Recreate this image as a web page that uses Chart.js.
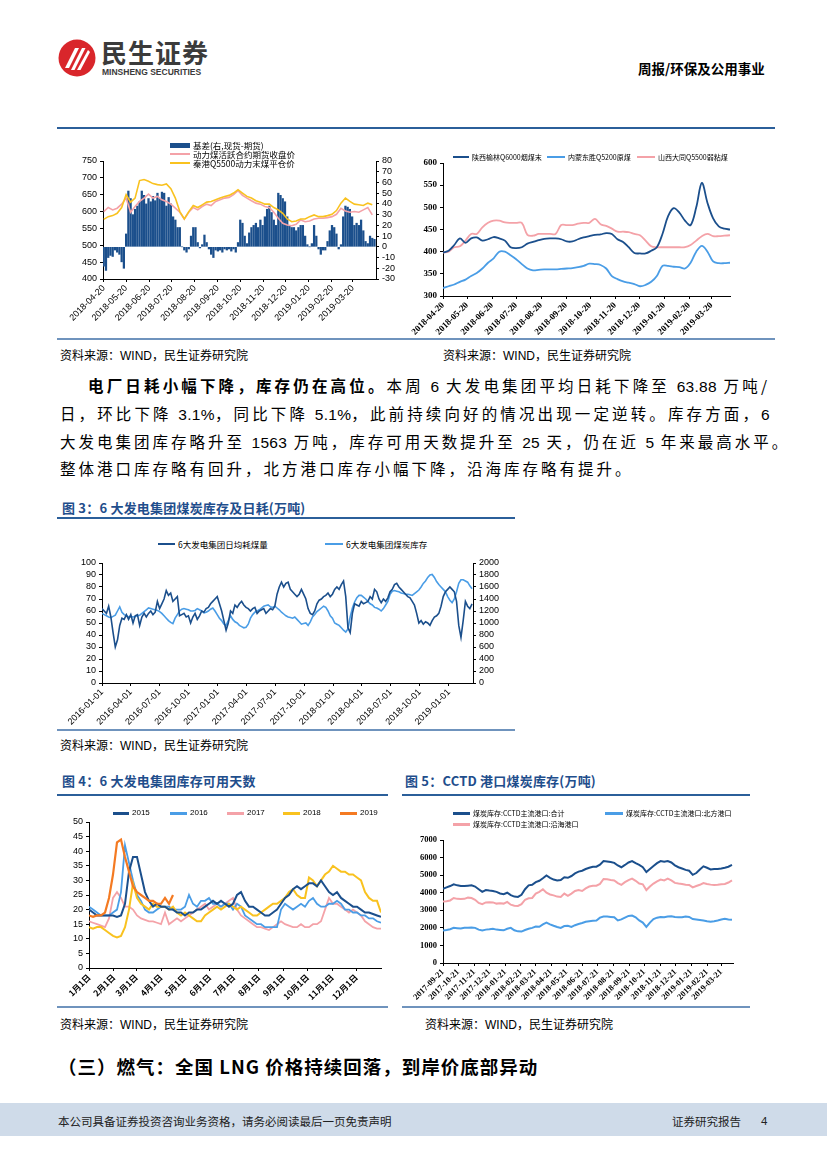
<!DOCTYPE html>
<html lang="zh-CN">
<head>
<meta charset="utf-8">
<title>周报/环保及公用事业</title>
<script src="https://cdn.jsdelivr.net/npm/chart.js@4.4.1/dist/chart.umd.min.js"></script>
<style>
  html, body { margin: 0; padding: 0; background: #fff; }
  #page { position: relative; width: 827px; height: 1169px; overflow: hidden; font-family: "Noto Sans CJK SC", sans-serif; color: #000; }
  #page div, #page canvas, #page svg { position: absolute; }
  .txt { white-space: nowrap; }
  .rule { background: #2b5f9a; height: 2px; }
  .src { font-size: 12px; line-height: 16px; white-space: nowrap; }
  .src b { font-family: "Liberation Sans", sans-serif; font-weight: normal; }
  .fig { font-size: 13px; line-height: 18px; font-weight: bold; color: #1f4e8c; letter-spacing: 0.2px; white-space: nowrap; }
  .body { font-size: 15.5px; line-height: 20px; letter-spacing: 3px; white-space: nowrap; }
  .body i { font-style: normal; letter-spacing: 0.3px; font-family: "Liberation Sans", sans-serif; }
  .just { text-align: justify; text-align-last: justify; }
  .lg { line-height: 10px; white-space: nowrap; }
</style>
</head>
<body>
<div id="page">
  <!-- header -->
  <svg style="left:58px;top:39px" width="38" height="38" viewBox="0 0 38 38">
    <circle cx="19" cy="19" r="18.5" fill="#d9262b"/>
    <path d="M7 29 L17 9 L21 9 L11 29 Z" fill="#fff"/>
    <path d="M13 31 L24 9 L27.5 9 L16.5 31 Z" fill="#fff"/>
    <path d="M19 31 L30 11 L32 13 L22.5 31 Z" fill="#fff"/>
  </svg>
  <div class="txt" style="left:101px;top:36px;font-size:26px;line-height:32px;font-weight:bold;color:#3b3b3b;letter-spacing:1px">民生证券</div>
  <div class="txt" style="left:102px;top:67px;font-size:8.5px;line-height:10px;font-weight:bold;color:#3b3b3b;font-family:'Liberation Sans',sans-serif">MINSHENG SECURITIES</div>
  <div class="txt" style="left:638px;top:60px;font-size:13.5px;line-height:16px;font-weight:bold">周报/环保及公用事业</div>

  <!-- top pair of charts -->
  <div class="rule" style="left:57px;top:127px;width:718px"></div>
  <canvas id="chartBasis" width="345" height="190" style="left:60px;top:150px"></canvas>
  <canvas id="chartPit" width="335" height="190" style="left:405px;top:150px"></canvas>
  <div class="rule" style="left:57px;top:338px;width:718px;background:#6f93bd"></div>
  <div class="src" style="left:60px;top:347px">资料来源：<b>WIND</b>，民生证券研究院</div>
  <div class="src" style="left:443px;top:347px">资料来源：<b>WIND</b>，民生证券研究院</div>

  <!-- body text -->
  <div class="body just" style="left:88px;top:375px;width:682px"><b>电厂日耗小幅下降，库存仍在高位。</b>本周 <i>6</i> 大发电集团平均日耗下降至 <i>63.88</i> 万吨/</div>
  <div class="body just" style="left:60px;top:403px;width:710px">日，环比下降 <i>3.1%</i>，同比下降 <i>5.1%</i>，此前持续向好的情况出现一定逆转。库存方面，<i>6</i></div>
  <div class="body just" style="left:60px;top:431px;width:710px">大发电集团库存略升至 <i>1563</i> 万吨，库存可用天数提升至 <i>25</i> 天，仍在近 <i>5</i> 年来最高水平。</div>
  <div class="body" style="left:60px;top:458px">整体港口库存略有回升，北方港口库存小幅下降，沿海库存略有提升。</div>

  <!-- figure 3 -->
  <div class="fig" style="left:62px;top:499px">图 3：6 大发电集团煤炭库存及日耗(万吨)</div>
  <div class="rule" style="left:57px;top:517px;width:458px"></div>
  <canvas id="chartPower" width="450" height="172" style="left:55px;top:553px"></canvas>
  <div class="rule" style="left:57px;top:729px;width:458px;background:#6f93bd"></div>
  <div class="src" style="left:60px;top:737px">资料来源：<b>WIND</b>，民生证券研究院</div>

  <!-- figure 4 / 5 -->
  <div class="fig" style="left:62px;top:772px">图 4：6 大发电集团库存可用天数</div>
  <div class="fig" style="left:405px;top:772px">图 5：CCTD 港口煤炭库存(万吨)</div>
  <div class="rule" style="left:57px;top:794px;width:331px"></div>
  <div class="rule" style="left:402px;top:794px;width:348px"></div>
  <canvas id="chartDays" width="335" height="193" style="left:55px;top:812px"></canvas>
  <canvas id="chartPort" width="345" height="175" style="left:400px;top:830px"></canvas>
  <div class="rule" style="left:57px;top:1006px;width:331px;background:#6f93bd"></div>
  <div class="rule" style="left:402px;top:1006px;width:348px;background:#6f93bd"></div>
  <div class="src" style="left:60px;top:1016px">资料来源：<b>WIND</b>，民生证券研究院</div>
  <div class="src" style="left:425px;top:1016px">资料来源：<b>WIND</b>，民生证券研究院</div>

  <div class="txt" style="left:58px;top:1054px;font-size:18.5px;line-height:24px;font-weight:bold;letter-spacing:1px">（三）燃气：全国 LNG 价格持续回落，到岸价底部异动</div>

  <!-- footer -->
  <div style="left:0;top:1103px;width:827px;height:33px;background:#cfdbe9"></div>
  <div class="txt" style="left:58px;top:1113px;font-size:11.5px;line-height:16px;color:#222">本公司具备证券投资咨询业务资格，请务必阅读最后一页免责声明</div>
  <div class="txt" style="left:672px;top:1113px;font-size:11.5px;line-height:16px;color:#222">证券研究报告</div>
  <div class="txt" style="left:761px;top:1113px;font-size:11.5px;line-height:16px;color:#222;font-family:'Liberation Sans',sans-serif">4</div>
</div>

<script>
// ---------- data ----------
// top left: basis (bars, right axis) and prices (lines, left axis), from 2018-04-20
const basisStart = '2018-04-20';
const basisTicks = ['2018-04-20', '2018-05-20', '2018-06-20', '2018-07-20', '2018-08-20', '2018-09-20',
  '2018-10-20', '2018-11-20', '2018-12-20', '2019-01-20', '2019-02-20', '2019-03-20'];
const basisNames = ['基差(右,现货-期货)', '动力煤活跃合约期货收盘价', '秦港Q5500动力末煤平仓价'];
// one bar every 3 days
const basisValues = [-18, -22, -10, -8, -9, -3, -5, -7, -14, -20, 12, 52, 45, 30, 35, 38, 42, 52, 48, 40,
  45, 42, 47, 43, 50, 45, 51, 50, 38, 46, 40, 28, 25, 18, 18, 0, -3, -5, -2, 10,
  18, 18, 4, -1, 2, 11, 4, -2, -7, -10, -3, -4, -3, -5, -2, -3, -2, -4, -2, -5,
  4, 25, 22, 10, 3, 13, 18, 20, 22, 18, 25, 20, 28, 35, 38, 32, 25, 20, 50, 48,
  45, 42, 28, 20, 18, 18, 15, 18, 20, 20, 10, 2, 0, 3, 20, 10, -2, -7, -3, -3,
  5, 15, 20, 18, 12, -2, 2, 28, 38, 37, 35, 28, 20, 22, 20, 25, 15, 5, 3, 10, 8, 7];
// one point every 6 days
const futuresClose = [600, 612, 605, 610, 622, 640, 598, 615, 630, 640, 652, 640, 645, 635, 630, 622, 610, 598, 578, 598,
  612, 605, 615, 622, 618, 630, 635, 640, 642, 650, 662, 648, 640, 632, 625, 622, 615, 612, 598, 580,
  565, 560, 558, 562, 575, 570, 572, 578, 580, 580, 582, 585, 592, 610, 602, 598, 600, 598, 605, 612, 590];
const qhdSpot = [577, 585, 588, 595, 612, 650, 628, 640, 692, 695, 690, 683, 680, 678, 682, 668, 640, 600, 578, 600,
  618, 612, 620, 628, 630, 635, 640, 645, 648, 655, 665, 655, 645, 640, 632, 628, 622, 622, 612, 605,
  595, 578, 570, 572, 578, 578, 585, 590, 585, 585, 588, 592, 603, 625, 640, 630, 622, 620, 618, 625, 620];

// top right: pit-mouth prices, weekly from 2018-04-20
const pitStart = '2018-04-20';
const pitTicks = basisTicks;
const pitNames = ['陕西榆林Q6000烟煤末', '内蒙东胜Q5200原煤', '山西大同Q5500弱粘煤'];
const yulin = [398, 402, 415, 430, 420, 430, 432, 425, 428, 433, 430, 425, 410, 408, 410, 418, 422, 426, 429, 430,
  430, 428, 423, 423, 428, 432, 435, 438, 439, 442, 440, 428, 422, 410, 397, 396, 396, 402, 410, 440,
  480, 498, 488, 470, 460, 500, 555, 510, 475, 457, 452, 450];
const dongsheng = [318, 322, 326, 332, 337, 345, 352, 362, 375, 385, 400, 400, 392, 383, 372, 362, 358, 359, 360, 360,
  360, 361, 362, 363, 365, 368, 373, 372, 370, 362, 345, 338, 333, 330, 327, 322, 325, 332, 345, 368,
  368, 366, 365, 362, 375, 400, 413, 400, 378, 374, 374, 375];
const datong = [398, 400, 410, 412, 425, 440, 440, 455, 465, 470, 470, 466, 465, 465, 465, 438, 436, 440, 440, 440,
  440, 460, 460, 460, 463, 465, 465, 474, 462, 458, 452, 445, 445, 444, 440, 437, 425, 412, 410, 410,
  410, 410, 410, 410, 415, 425, 435, 440, 435, 435, 436, 437];

// figure 3: weekly from 2016-01-01
const powerStart = '2016-01-01';
const powerTicks = ['2016-01-01', '2016-04-01', '2016-07-01', '2016-10-01', '2017-01-01', '2017-04-01', '2017-07-01',
  '2017-10-01', '2018-01-01', '2018-04-01', '2018-07-01', '2018-10-01', '2019-01-01'];
const powerNames = ['6大发电集团日均耗煤量', '6大发电集团煤炭库存'];
const dailyBurn = [62, 60, 58, 64, 55, 42, 30, 36, 48, 54, 53, 57, 53, 57, 50, 56, 57, 48, 55, 58,
  55, 58, 60, 57, 59, 68, 62, 66, 70, 77, 73, 75, 68, 70, 72, 56, 57, 58, 55, 56,
  50, 55, 58, 53, 56, 60, 59, 62, 63, 66, 68, 70, 72, 66, 60, 52, 44, 50, 60, 58,
  65, 63, 66, 68, 65, 63, 62, 60, 62, 63, 58, 60, 61, 62, 58, 60, 62, 61, 64, 74,
  80, 84, 80, 83, 84, 78, 76, 74, 72, 74, 78, 74, 70, 62, 58, 57, 60, 66, 69, 70,
  72, 73, 75, 72, 74, 78, 80, 78, 82, 85, 72, 46, 42, 58, 66, 65, 64, 68, 66, 67,
  68, 72, 70, 78, 76, 70, 67, 70, 68, 71, 76, 78, 82, 83, 80, 78, 76, 74, 72, 71,
  68, 65, 58, 50, 52, 49, 51, 50, 48, 52, 55, 56, 58, 64, 72, 76, 78, 80, 78, 76,
  68, 48, 38, 52, 68, 64, 62, 66];
const coalStock = [1160, 1140, 1120, 1100, 1090, 1110, 1130, 1200, 1270, 1180, 1140, 1120, 1100, 1110, 1100, 1110, 1120, 1130, 1160, 1190,
  1220, 1250, 1240, 1230, 1220, 1210, 1190, 1160, 1120, 1080, 1040, 1010, 990, 1080, 1140, 1200, 1230, 1240, 1230, 1220,
  1200, 1200, 1210, 1240, 1220, 1200, 1170, 1180, 1200, 1230, 1250, 1200, 1140, 1080, 1040, 980, 960, 1040, 1120, 1060,
  1020, 1000, 960, 940, 920, 930, 980, 1080, 1140, 1180, 1200, 1220, 1250, 1280, 1290, 1300, 1270, 1260, 1280, 1250,
  1220, 1180, 1150, 1120, 1100, 1090, 1080, 1100, 1060, 1020, 980, 990, 1000, 960, 1020, 1100, 1140, 1190, 1220, 1250,
  1280, 1260, 1200, 1120, 1080, 1000, 980, 960, 920, 880, 850, 900, 1100, 1250, 1350, 1420, 1460, 1460, 1430, 1400,
  1360, 1320, 1300, 1260, 1250, 1230, 1200, 1240, 1300, 1360, 1480, 1530, 1540, 1530, 1520, 1500, 1490, 1480, 1480, 1470,
  1460, 1490, 1520, 1550, 1600, 1660, 1700, 1760, 1800, 1810, 1760, 1690, 1640, 1600, 1560, 1520, 1440, 1380, 1340, 1400,
  1520, 1660, 1720, 1720, 1700, 1680, 1620, 1570];

// figure 4: available days by year, one point every 5 days of the year
const dayTickDays = [0, 31, 59, 90, 120, 151, 181, 212, 243, 273, 304, 334];
const dayTickLabels = ['1月1日', '2月1日', '3月1日', '4月1日', '5月1日', '6月1日', '7月1日', '8月1日', '9月1日', '10月1日', '11月1日', '12月1日'];
const yearNames = ['2015', '2016', '2017', '2018', '2019'];
const days2015 = [20, 19, 18, 18, 18, 18, 18, 17.5, 18, 22, 33, 38, 38, 32, 26, 23, 21, 22, 21, 21,
  20, 20, 19, 19, 18, 19, 19, 20, 20, 21, 22, 23, 22, 23, 22, 21, 22, 25, 26, 23,
  21, 21, 20, 19, 18, 18, 19, 20, 22, 24, 25, 27, 28, 27, 28, 29, 29, 28, 30, 28,
  26, 25, 26, 24, 23, 22, 21, 21, 20, 19, 19, 18.5, 18, 17.5];
const days2016 = [21, 20, 19, 18, 18, 18, 19, 20, 26, 42, 36, 30, 25, 23, 20, 19, 19, 20, 21, 21,
  21, 20, 20, 20, 21, 25, 22, 21, 23, 23, 24, 22, 22, 21, 22, 22, 20, 22, 21, 18,
  17, 16, 15, 15, 14, 14, 14, 14, 20, 22, 21, 20, 21, 22, 21, 23, 24, 22, 21, 21,
  22, 22, 23, 22, 20, 20, 19, 19, 18, 18, 17, 17, 16, 15.5];
const days2017 = [16, 15.5, 15, 14.5, 14, 17, 24, 26, 24, 21, 21, 20, 18, 17, 16.5, 16, 16, 15.5, 15, 19,
  15, 16, 17, 16, 17, 18, 19, 20, 21, 22, 20, 21, 22, 21, 22, 23, 24, 20, 18, 17,
  16, 15, 14, 14, 13.5, 13, 14, 15, 16, 15, 14.5, 14, 14, 15, 14, 14, 15, 15, 16, 20,
  24, 22, 22, 21, 20, 19, 20, 19, 18, 16, 15, 14, 13.5, 13.5];
const days2018 = [14, 13.5, 14, 14, 13, 12, 11, 10.5, 11, 14, 20, 29, 24, 22, 21, 20, 22, 21, 21, 21,
  20, 21, 19, 18, 19, 18, 17, 16, 16, 18, 19, 20, 21, 20, 21, 22, 21, 20, 21, 20,
  19, 18, 18, 19, 20, 21, 22, 22, 23, 24, 26, 27, 25, 24, 24, 31, 30, 28, 30, 32,
  33, 35, 34, 33, 33, 32, 32, 31, 30, 26, 24, 23, 23, 19];
const days2019 = [18, 17.5, 18, 18, 19, 24, 32, 43, 44, 38, 33, 28, 26, 25, 24, 23, 23, 22, 22, 24, 22, 25];

// figure 5: CCTD port stocks, weekly from 2017-09-21
const portStart = '2017-09-21';
const portTicks = ['2017-09-21', '2017-10-21', '2017-11-21', '2017-12-21', '2018-01-21', '2018-02-21', '2018-03-21',
  '2018-04-21', '2018-05-21', '2018-06-21', '2018-07-21', '2018-08-21', '2018-09-21', '2018-10-21', '2018-11-21',
  '2018-12-21', '2019-01-21', '2019-02-21', '2019-03-21'];
const portNames = ['煤炭库存:CCTD主流港口:合计', '煤炭库存:CCTD主流港口:北方港口', '煤炭库存:CCTD主流港口:沿海港口'];
const portTotal = [4220, 4300, 4380, 4480, 4420, 4380, 4380, 4400, 4420, 4350, 4200, 4050, 4150, 4120, 4100, 4050, 3960, 3920, 4000, 3860,
  3780, 3760, 3880, 4200, 4420, 4450, 4600, 4680, 4820, 4980, 4850, 4750, 4700, 4720, 4880, 4850, 4950, 5100, 5200, 5250,
  5350, 5420, 5480, 5480, 5600, 5800, 5780, 5750, 5700, 5550, 5450, 5580, 5720, 5800, 5680, 5580, 5450, 5180, 5350, 5520,
  5680, 5800, 5760, 5800, 5720, 5560, 5450, 5380, 5300, 5250, 5020, 5120, 5320, 5500, 5420, 5320, 5350, 5350, 5380, 5420,
  5480, 5580];
const portNorth = [1850, 1880, 1920, 2000, 1980, 1960, 2000, 2000, 2020, 2000, 1900, 1850, 1900, 1920, 1950, 1900, 1880, 1860, 1950, 2000,
  1860, 1800, 1790, 1880, 1950, 2000, 2080, 2060, 2200, 2300, 2200, 2120, 2050, 2000, 2100, 2120, 2050, 2150, 2220, 2280,
  2350, 2380, 2400, 2420, 2580, 2650, 2640, 2620, 2600, 2420, 2480, 2580, 2680, 2700, 2600, 2420, 2300, 2050, 2300, 2500,
  2580, 2620, 2600, 2650, 2660, 2620, 2600, 2600, 2650, 2620, 2500, 2480, 2450, 2420, 2380, 2350, 2380, 2420, 2480, 2520,
  2480, 2460];
const portCoastal = [3500, 3520, 3560, 3700, 3650, 3640, 3650, 3720, 3700, 3600, 3420, 3350, 3450, 3460, 3450, 3380, 3400, 3380, 3480, 3320,
  3260, 3250, 3350, 3600, 3680, 3700, 3950, 4050, 4200, 4000, 3900, 3850, 3780, 3760, 3950, 3820, 3950, 4100, 4150, 4100,
  4250, 4350, 4400, 4400, 4500, 4780, 4760, 4720, 4700, 4550, 4450, 4600, 4720, 4800, 4680, 4520, 4480, 4150, 4350, 4520,
  4650, 4750, 4700, 4800, 4700, 4560, 4520, 4500, 4450, 4440, 4300, 4380, 4450, 4550, 4500, 4460, 4440, 4450, 4480, 4500,
  4580, 4700];

// ---------- styles ----------
const NAVY = '#1b4f8c';
const SKY = '#4a9de6';
const PINK = '#f4a2a8';
const YELLOW = '#f9c21f';
const ORANGE = '#f47a22';
const SANS = '"Liberation Sans", Arial, sans-serif';
const SERIF = '"Liberation Serif", "Times New Roman", serif';
const CJK = '"Noto Sans CJK SC", sans-serif';

Chart.defaults.font.family = SANS;
Chart.defaults.font.size = 9;
Chart.defaults.color = '#000';
Chart.defaults.animation = false;
Chart.defaults.plugins.legend.display = false;
Chart.defaults.plugins.tooltip.enabled = false;
Chart.defaults.elements.point.radius = 0;
Chart.defaults.elements.line.borderWidth = 1.5;

const dayOf = (base, s) => Math.round((Date.parse(s) - Date.parse(base)) / 864e5);
const series = (values, step) => values.map((v, i) => ({ x: i * step, y: v }));

function yAxis(position, min, max, step, width, font, dash) {
  return {
    position, min, max,
    ticks: { stepSize: step, padding: 3, font, autoSkip: false, callback: (v) => String(v) },
    grid: { drawOnChartArea: false, tickLength: 3, color: '#000' },
    border: { color: '#000', dash: dash || [] },
    afterFit: (s) => { s.width = width; },
  };
}

function xAxis(values, labels, min, max, height, font) {
  return {
    type: 'linear', min, max, offset: false,
    grid: { drawOnChartArea: false, tickLength: 3, color: '#000', offset: false },
    border: { color: '#000' },
    ticks: { autoSkip: false, minRotation: 45, maxRotation: 45, padding: 1, font, callback: (v, i) => labels[i] },
    afterBuildTicks: (s) => { s.ticks = values.map((v) => ({ value: v })); },
    afterFit: (s) => { s.height = height; },
  };
}

function line(label, data, color, width, order, yAxisID) {
  return { type: 'line', label, data, borderColor: color, borderWidth: width, order, yAxisID: yAxisID || 'y', tension: 0 };
}

const page = document.getElementById('page');
function legend(items, fontSize, font) {
  items.forEach(([x, y, w, h, color, text]) => {
    const sw = document.createElement('div');
    sw.style.cssText = `left:${x}px;top:${y - h / 2}px;width:${w}px;height:${h}px;background:${color}`;
    page.appendChild(sw);
    const t = document.createElement('div');
    t.className = 'lg';
    t.textContent = text;
    t.style.cssText += `left:${x + w + 3}px;top:${y - 5}px;font-size:${fontSize}px;font-family:${font || CJK}`;
    page.appendChild(t);
  });
}

// ---------- top left ----------
new Chart(document.getElementById('chartBasis'), {
  type: 'bar',
  data: {
    datasets: [
      line(basisNames[2], series(qhdSpot, 6), YELLOW, 1.6, 0),
      line(basisNames[1], series(futuresClose, 6), PINK, 1.6, 1),
      { type: 'bar', label: basisNames[0], data: series(basisValues, 3), backgroundColor: NAVY, barThickness: 1.6, order: 2, yAxisID: 'y1' },
    ],
  },
  options: {
    responsive: false,
    layout: { padding: { top: 11, left: 0, right: 0, bottom: 0 } },
    scales: {
      x: xAxis(basisTicks.map((t) => dayOf(basisStart, t)), basisTicks, -1, 365, 61),
      y: yAxis('left', 400, 750, 50, 43),
      y1: yAxis('right', -30, 80, 10, 29),
    },
  },
});
legend([
  [170, 145, 20, 5, NAVY, basisNames[0]],
  [170, 154, 20, 2, PINK, basisNames[1]],
  [170, 163, 20, 2, YELLOW, basisNames[2]],
], 8.5);

// ---------- top right ----------
const serifBold = { family: SERIF, weight: 'bold', size: 9 };
new Chart(document.getElementById('chartPit'), {
  type: 'line',
  data: {
    datasets: [
      { ...line(pitNames[0], series(yulin, 7), NAVY, 1.8, 0), tension: 0.35 },
      { ...line(pitNames[1], series(dongsheng, 7), SKY, 1.8, 1), tension: 0.35 },
      { ...line(pitNames[2], series(datong, 7), PINK, 1.8, 2), tension: 0.35 },
    ],
  },
  options: {
    responsive: false,
    layout: { padding: { top: 13, left: 0, right: 10, bottom: 0 } },
    scales: {
      x: xAxis(pitTicks.map((t) => dayOf(pitStart, t)), pitTicks, 0, 357, 44, serifBold),
      y: yAxis('left', 300, 600, 50, 38, serifBold),
    },
  },
});
legend([
  [453, 157, 16, 1.5, NAVY, pitNames[0]],
  [547, 157, 18, 1.5, SKY, pitNames[1]],
  [637, 157, 18, 1.5, PINK, pitNames[2]],
], 7);

// ---------- figure 3 ----------
new Chart(document.getElementById('chartPower'), {
  type: 'line',
  data: {
    datasets: [
      line(powerNames[0], series(dailyBurn, 7), NAVY, 1.6, 0),
      line(powerNames[1], series(coalStock, 7), SKY, 1.6, 1, 'y1'),
    ],
  },
  options: {
    responsive: false,
    layout: { padding: { top: 10, left: 0, right: 0, bottom: 0 } },
    scales: {
      x: xAxis(powerTicks.map((t) => dayOf(powerStart, t)), powerTicks, 0, 1172, 42),
      y: yAxis('left', 0, 100, 10, 47),
      y1: yAxis('right', 0, 2000, 200, 32, undefined, [1, 2]),
    },
  },
});
legend([
  [158, 544, 17, 1.5, NAVY, powerNames[0]],
  [325, 544, 18, 1.5, SKY, powerNames[1]],
], 8.5);

// ---------- figure 4 ----------
new Chart(document.getElementById('chartDays'), {
  type: 'line',
  data: {
    datasets: [
      line(yearNames[4], series(days2019, 5), ORANGE, 2.2, 0),
      line(yearNames[0], series(days2015, 5), NAVY, 2, 1),
      line(yearNames[3], series(days2018, 5), YELLOW, 2, 2),
      line(yearNames[1], series(days2016, 5), SKY, 1.8, 3),
      line(yearNames[2], series(days2017, 5), PINK, 1.8, 4),
    ],
  },
  options: {
    responsive: false,
    layout: { padding: { top: 10, left: 0, right: 9, bottom: 0 } },
    scales: {
      x: xAxis(dayTickDays, dayTickLabels, 0, 365, 37, { family: CJK, weight: 'bold', size: 8.5 }),
      y: yAxis('left', 0, 50, 5, 34),
    },
  },
});
legend([
  [113, 813, 16, 3, NAVY, yearNames[0]],
  [170, 813, 17, 3, SKY, yearNames[1]],
  [227, 813, 17, 3, PINK, yearNames[2]],
  [283, 813, 17, 3, YELLOW, yearNames[3]],
  [340, 813, 17, 3, ORANGE, yearNames[4]],
], 8, SANS);

// ---------- figure 5 ----------
new Chart(document.getElementById('chartPort'), {
  type: 'line',
  data: {
    datasets: [
      line(portNames[0], series(portTotal, 7), NAVY, 2, 0),
      line(portNames[2], series(portCoastal, 7), PINK, 2, 1),
      line(portNames[1], series(portNorth, 7), SKY, 2, 2),
    ],
  },
  options: {
    responsive: false,
    layout: { padding: { top: 10, left: 0, right: 12, bottom: 0 } },
    scales: {
      x: xAxis(portTicks.map((t) => dayOf(portStart, t)), portTicks, 0, 569, 42, { family: SERIF, weight: 'bold', size: 8.5 }),
      y: yAxis('left', 0, 7000, 1000, 43, { family: SERIF, weight: 'bold', size: 8.5 }),
    },
  },
});
legend([
  [453, 813, 17, 3, NAVY, portNames[0]],
  [605, 813, 18, 3, SKY, portNames[1]],
  [453, 824, 17, 3, PINK, portNames[2]],
], 7);
</script>
</body>
</html>
